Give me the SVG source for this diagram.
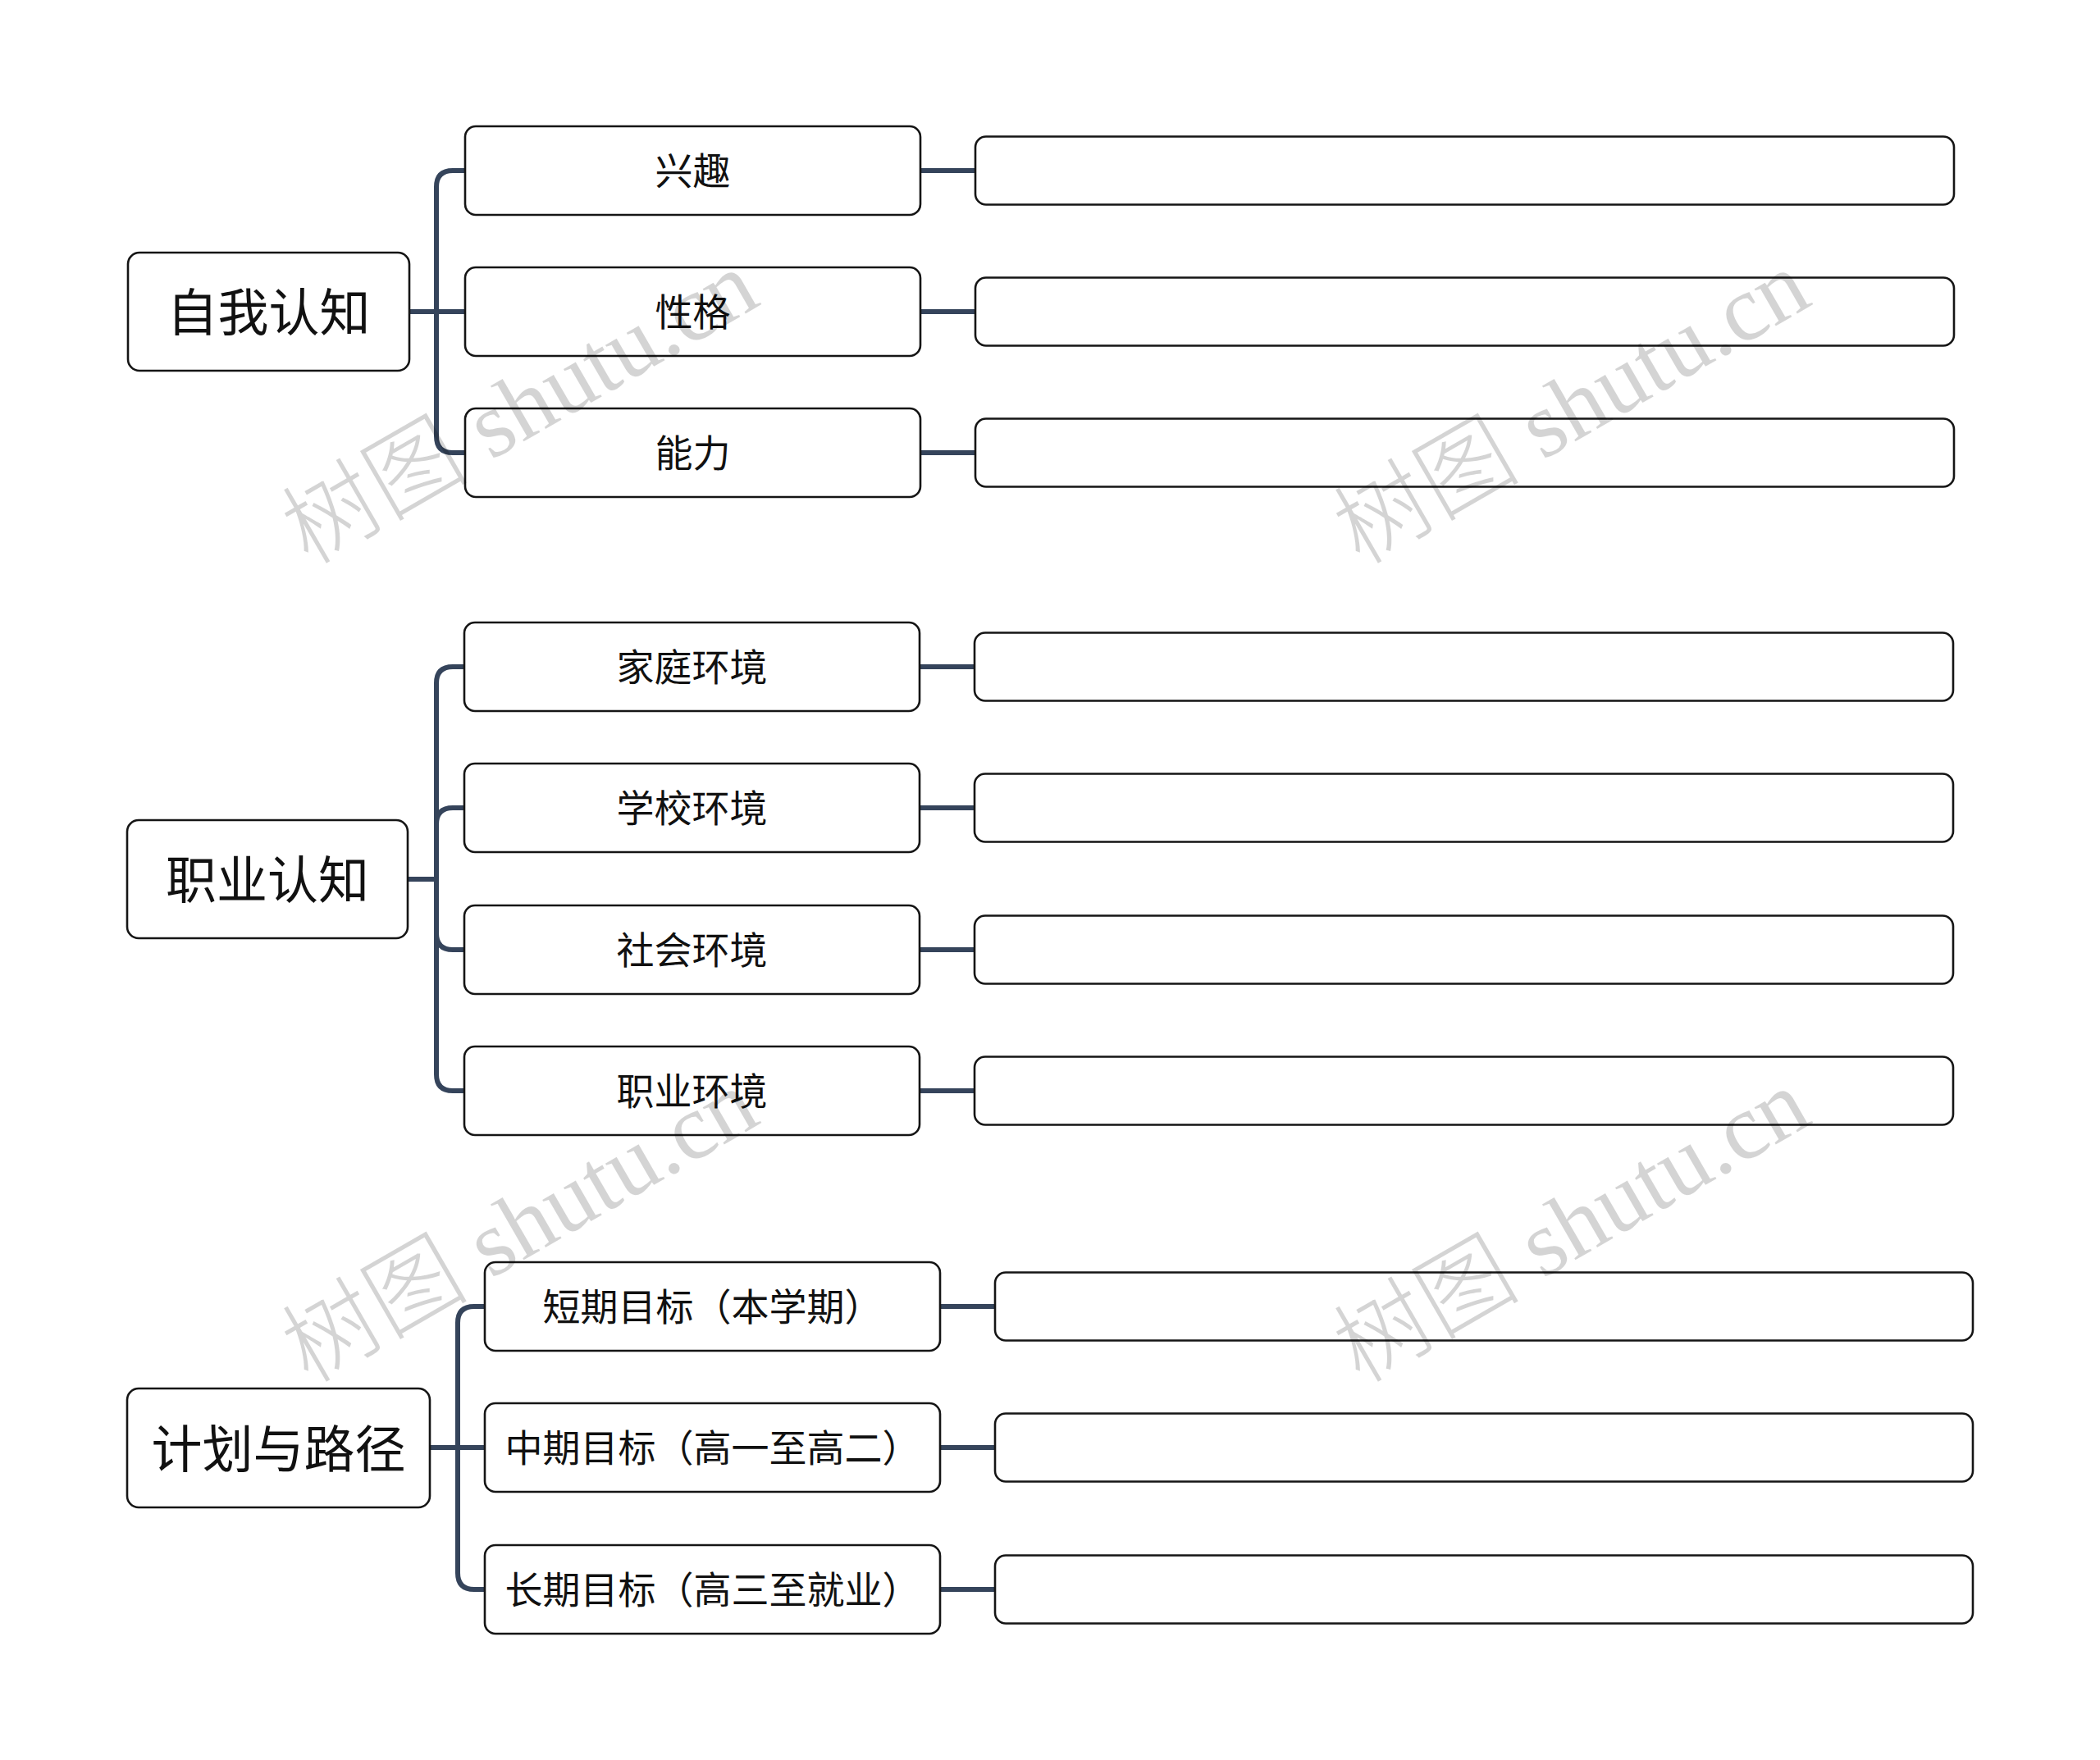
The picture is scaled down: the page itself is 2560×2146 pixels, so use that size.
<svg xmlns="http://www.w3.org/2000/svg" width="2560" height="2146" viewBox="0 0 2560 2146">
<style>
.box{fill:#fff;stroke:#151515;stroke-width:2.6}
.conn{fill:none;stroke:#35445b;stroke-width:6;stroke-linecap:butt;stroke-linejoin:round}
.rt{font-family:"Noto Sans CJK SC","Noto Sans",sans-serif;font-size:62px;fill:#111;text-anchor:middle;dominant-baseline:central}
.ch{font-family:"Noto Sans CJK SC","Noto Sans",sans-serif;font-size:46px;fill:#111;text-anchor:middle;dominant-baseline:central}
.wm{font-family:"Liberation Serif","Noto Sans CJK SC",serif;font-size:114px;font-weight:300;fill:#000;fill-opacity:0.17}
</style>
<rect x="0" y="0" width="2560" height="2146" fill="#fff"/>
<g id="connectors">
<path class="conn" d="M499 380 H567"/>
<path class="conn" d="M499 380 H532 V228 Q532 208 552 208 H567"/>
<path class="conn" d="M499 380 H532 V532 Q532 552 552 552 H567"/>
<path class="conn" d="M1122 208 H1189"/>
<path class="conn" d="M1122 380 H1189"/>
<path class="conn" d="M1122 552 H1189"/>
<path class="conn" d="M497 1072 H532 V833 Q532 813 552 813 H566"/>
<path class="conn" d="M497 1072 H532 V1005 Q532 985 552 985 H566"/>
<path class="conn" d="M497 1072 H532 V1138 Q532 1158 552 1158 H566"/>
<path class="conn" d="M497 1072 H532 V1310 Q532 1330 552 1330 H566"/>
<path class="conn" d="M1121 813 H1188"/>
<path class="conn" d="M1121 985 H1188"/>
<path class="conn" d="M1121 1158 H1188"/>
<path class="conn" d="M1121 1330 H1188"/>
<path class="conn" d="M524 1765 H591"/>
<path class="conn" d="M524 1765 H558 V1613 Q558 1593 578 1593 H591"/>
<path class="conn" d="M524 1765 H558 V1918 Q558 1938 578 1938 H591"/>
<path class="conn" d="M1146 1593 H1213"/>
<path class="conn" d="M1146 1765 H1213"/>
<path class="conn" d="M1146 1938 H1213"/>
</g>
<g id="n-zwrz"><rect class="box" x="156" y="308" width="343" height="144" rx="14"/><text class="rt" x="327.5" y="377">自我认知</text></g>
<g id="n-xq"><rect class="box" x="567" y="154" width="555" height="108" rx="13"/><text class="ch" x="844.5" y="205">兴趣</text></g>
<g id="n-xg"><rect class="box" x="567" y="326" width="555" height="108" rx="13"/><text class="ch" x="844.5" y="377">性格</text></g>
<g id="n-nl"><rect class="box" x="567" y="498" width="555" height="108" rx="13"/><text class="ch" x="844.5" y="549">能力</text></g>
<g id="n-xq-r"><rect class="box" x="1189" y="166.5" width="1193" height="83" rx="13"/></g>
<g id="n-xg-r"><rect class="box" x="1189" y="338.5" width="1193" height="83" rx="13"/></g>
<g id="n-nl-r"><rect class="box" x="1189" y="510.5" width="1193" height="83" rx="13"/></g>

<g id="n-zyrz"><rect class="box" x="155" y="1000" width="342" height="144" rx="14"/><text class="rt" x="326" y="1069">职业认知</text></g>
<g id="n-jt"><rect class="box" x="566" y="759" width="555" height="108" rx="13"/><text class="ch" x="843.5" y="810">家庭环境</text></g>
<g id="n-xx"><rect class="box" x="566" y="931" width="555" height="108" rx="13"/><text class="ch" x="843.5" y="982">学校环境</text></g>
<g id="n-sh"><rect class="box" x="566" y="1104" width="555" height="108" rx="13"/><text class="ch" x="843.5" y="1155">社会环境</text></g>
<g id="n-zy"><rect class="box" x="566" y="1276" width="555" height="108" rx="13"/><text class="ch" x="843.5" y="1327">职业环境</text></g>
<g id="n-jt-r"><rect class="box" x="1188" y="771.5" width="1193" height="83" rx="13"/></g>
<g id="n-xx-r"><rect class="box" x="1188" y="943.5" width="1193" height="83" rx="13"/></g>
<g id="n-sh-r"><rect class="box" x="1188" y="1116.5" width="1193" height="83" rx="13"/></g>
<g id="n-zy-r"><rect class="box" x="1188" y="1288.5" width="1193" height="83" rx="13"/></g>

<g id="n-jhlj"><rect class="box" x="155" y="1693" width="369" height="145" rx="14"/><text class="rt" x="339.5" y="1762.5">计划与路径</text></g>
<g id="n-dq"><rect class="box" x="591" y="1539" width="555" height="108" rx="13"/><text class="ch" x="868.5" y="1590">短期目标（本学期）</text></g>
<g id="n-zq"><rect class="box" x="591" y="1711" width="555" height="108" rx="13"/><text class="ch" x="868.5" y="1762">中期目标（高一至高二）</text></g>
<g id="n-cq"><rect class="box" x="591" y="1884" width="555" height="108" rx="13"/><text class="ch" x="868.5" y="1935">长期目标（高三至就业）</text></g>
<g id="n-dq-r"><rect class="box" x="1213" y="1551.5" width="1192" height="83" rx="13"/></g>
<g id="n-zq-r"><rect class="box" x="1213" y="1723.5" width="1192" height="83" rx="13"/></g>
<g id="n-cq-r"><rect class="box" x="1213" y="1896.5" width="1192" height="83" rx="13"/></g>

<g id="watermarks">
<text class="wm" transform="translate(376 690) rotate(-30)">树图 shutu.cn</text>
<text class="wm" transform="translate(1658 690) rotate(-30)">树图 shutu.cn</text>
<text class="wm" transform="translate(376 1688) rotate(-30)">树图 shutu.cn</text>
<text class="wm" transform="translate(1658 1688) rotate(-30)">树图 shutu.cn</text>
</g>
</svg>
